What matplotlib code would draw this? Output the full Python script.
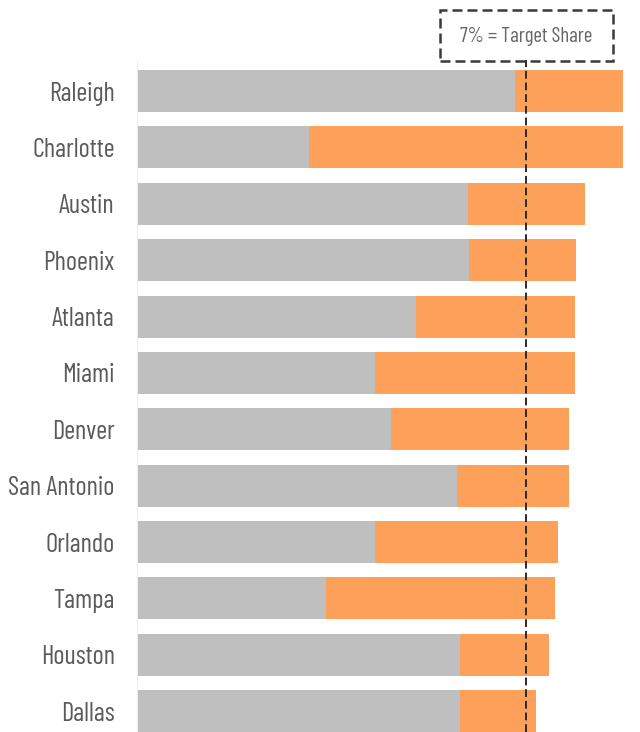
import matplotlib.pyplot as plt
from matplotlib.patches import Rectangle

cities = ['Raleigh', 'Charlotte', 'Austin', 'Phoenix', 'Atlanta', 'Miami',
          'Denver', 'San Antonio', 'Orlando', 'Tampa', 'Houston', 'Dallas']
# gray part and total bar length (in %)
base = [6.80, 3.10, 5.96, 5.97, 5.02, 4.28, 4.57, 5.75, 4.28, 3.40, 5.81, 5.81]
total = [8.74, 8.75, 8.06, 7.90, 7.88, 7.88, 7.77, 7.77, 7.58, 7.53, 7.41, 7.18]
extra = [t - b for t, b in zip(total, base)]
target = 7

W, H = 640, 732
fig = plt.figure(figsize=(W / 100, H / 100), dpi=100)
ax = fig.add_axes([137 / W, 0, (W - 137) / W, (732 - 60) / H])

fnt = ['Barlow Condensed', 'DejaVu Sans']
pos = list(range(len(cities)))
ax.barh(pos, base, height=0.745, color='#BFBFBF')
ax.barh(pos, extra, left=base, height=0.745, color='#FDA15A')
ax.axvline(target, color='#2b2b2b', ls=(0, (4, 2)), lw=1.4)

ax.set_xlim(0, (W - 137) / 55.57)
ax.set_ylim(11.37, -0.55)
ax.set_yticks(pos)
ax.set_yticklabels(cities, family=fnt, fontsize=19, color='#5a5a5a')
ax.tick_params(axis='y', length=0, pad=16)
ax.set_xticks([])
for s in ['top', 'right', 'bottom']:
    ax.spines[s].set_visible(False)
ax.spines['left'].set_color('#eeeeee')

# label box
fig.patches.append(Rectangle((440 / W, 1 - 61 / H), 173 / W, 51 / H,
                             transform=fig.transFigure, fill=False,
                             ec='#3a3a3a', lw=1.8, ls=(0, (4, 2))))
fig.text(526 / W, 1 - 36 / H, '7% = Target Share', family=fnt, fontsize=15,
         color='#666666', ha='center', va='center')

fig.savefig('out.png', dpi=100)
